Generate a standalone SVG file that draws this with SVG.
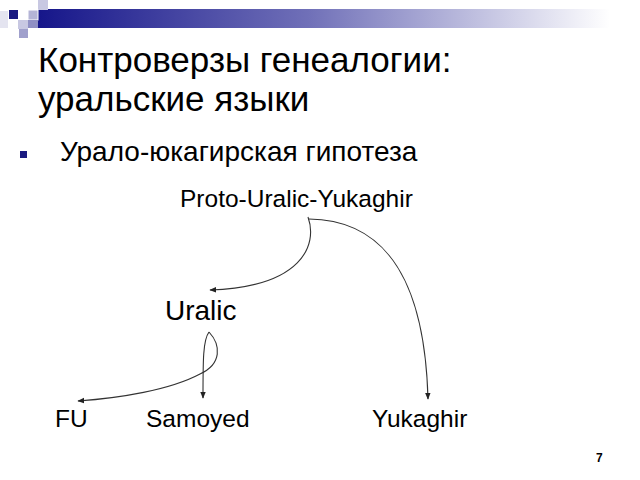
<svg xmlns="http://www.w3.org/2000/svg" width="640" height="480" viewBox="0 0 640 480">
<defs>
<linearGradient id="bar" x1="0" y1="0" x2="1" y2="0">
<stop offset="0" stop-color="#16168a"/>
<stop offset="0.45" stop-color="#7070b8"/>
<stop offset="0.95" stop-color="#ffffff"/>
</linearGradient>
<marker id="ah" viewBox="0 0 10 10" refX="9" refY="5" markerWidth="7" markerHeight="7" orient="auto" markerUnits="userSpaceOnUse">
<path d="M0,1 L10,5 L0,9 Z" fill="#222"/>
</marker>
<style>
text{font-family:"Liberation Sans",Arial,sans-serif;fill:#000}
.t{font-size:35px}
.b{font-size:28px}
.n{font-size:24.5px}
.c{fill:none;stroke:#333;stroke-width:1.1}
</style>
</defs>
<rect width="640" height="480" fill="#fff"/>
<g id="decor">
<rect x="38" y="9" width="602" height="19" fill="url(#bar)"/>
<rect x="0" y="11" width="8" height="17" fill="#e4e4f0"/>
<rect x="9" y="10" width="9" height="9" fill="#1a1a80"/>
<rect x="38" y="0" width="10" height="10" fill="#c8c8e2"/>
<rect x="28" y="10" width="10" height="10" fill="#b4b4d6" stroke="#fff" stroke-width="1"/>
<rect x="18" y="20" width="10" height="9" fill="#c8c8e2"/>
<rect x="28" y="20" width="10" height="8" fill="#9090c4"/>
<rect x="19" y="29" width="9" height="9" fill="#a0a0cc"/>
</g>
<g id="title">
<text class="t" x="38" y="72">Контроверзы генеалогии:</text>
<text class="t" x="38" y="111">уральские языки</text>
</g>
<g id="bullet">
<rect x="20" y="151" width="7" height="7" fill="#1a1a80"/>
<text class="b" x="60" y="161">Урало-юкагирская гипотеза</text>
</g>
<g id="node-puy"><text class="n" x="180" y="207">Proto-Uralic-Yukaghir</text></g>
<g id="node-uralic"><text class="b" x="165" y="320">Uralic</text></g>
<g id="node-fu"><text class="n" x="55" y="427">FU</text></g>
<g id="node-samoyed"><text class="n" x="146" y="427">Samoyed</text></g>
<g id="node-yukaghir"><text class="n" x="372" y="427">Yukaghir</text></g>
<g id="connectors">
<path class="c" d="M308,217 C318,245 302,287 210,290" marker-end="url(#ah)"/>
<path class="c" d="M309,219 C392,220 425,290 428,399" marker-end="url(#ah)"/>
<path class="c" d="M209,332 C203,340 203,360 203,398" marker-end="url(#ah)"/>
<path class="c" d="M209,332 C221,345 222,364 200,374 C170,390 120,398 78,401" marker-end="url(#ah)"/>
</g>
<text x="596" y="462" font-size="12" font-weight="bold">7</text>
</svg>
